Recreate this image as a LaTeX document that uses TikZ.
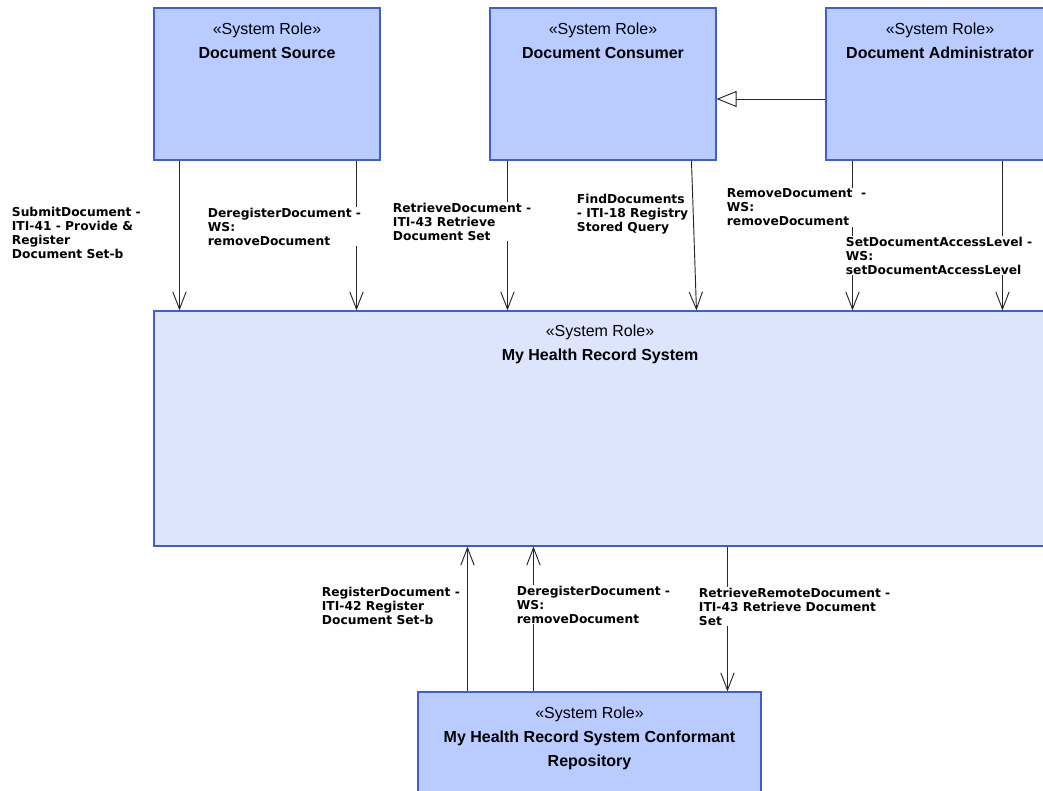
\documentclass[tikz,border=0pt]{standalone}
\usepackage{fontspec}
\setmainfont{Liberation Sans}
\newfontfamily\lblfont{DejaVu Sans}
\usetikzlibrary{arrows.meta,positioning}
\definecolor{rolefill}{RGB}{186,204,255}
\definecolor{sysfill}{RGB}{221,229,253}
\definecolor{roleline}{RGB}{64,92,214}

\begin{document}
\begin{tikzpicture}[x=0.75pt,y=-0.75pt,
	role/.style={draw=roleline, fill=rolefill, line width=0.8pt},
	sysrole/.style={role, fill=sysfill},
	roletext/.style={align=center, inner sep=0pt, font=\fontsize{12}{18}\selectfont},
	call/.style={draw=black!85, line width=0.7pt, -{Straight Barb[length=13pt,width=10pt]}},
	lbl/.style={align=left, anchor=north west, fill=white, inner sep=0.5pt, font=\lblfont\bfseries\fontsize{9.2}{10.5}\selectfont}]
	\useasboundingbox (0,0) rectangle (1043,791);
	% system roles
	\node[role, minimum width=169.5pt, minimum height=114pt] (source) at (267,84) {};
	\node[role, minimum width=169.5pt, minimum height=114pt] (consumer) at (603,84) {};
	\node[role, minimum width=165pt, minimum height=114pt] (admin) at (936,84) {};
	\node[sysrole, minimum width=669pt, minimum height=176.25pt] (mhr) at (600,428.5) {};
	\node[role, minimum width=257.25pt, minimum height=81pt] (repo) at (589.5,746) {};
	\node[roletext, below=11.25pt of source.north] (sourcetext) {«System Role»\\\textbf{Document Source}};
	\node[roletext, below=11.25pt of consumer.north] (consumertext) {«System Role»\\\textbf{Document Consumer}};
	\node[roletext, below=11.25pt of admin.north, xshift=3pt] (admintext) {«System Role»\\\textbf{Document Administrator}};
	\node[roletext, below=10.5pt of mhr.north] (mhrtext) {«System Role»\\\textbf{My Health Record System}};
	\node[roletext, below=11.25pt of repo.north] (repotext) {«System Role»\\\textbf{My Health Record System Conformant}\\\textbf{Repository}};
	% interactions
	\draw[call] ([xshift=19.5pt]source.south west) -- ([xshift=19.5pt]mhr.north west);
	\draw[call] ([xshift=152.25pt]source.south west) -- ([xshift=152.25pt]mhr.north west);
	\draw[call] ([xshift=13.5pt]consumer.south west) -- ([xshift=265.5pt]mhr.north west);
	\draw[call] ([xshift=151.5pt]consumer.south west) -- ([xshift=407.25pt]mhr.north west);
	\draw[call] ([xshift=20.25pt]admin.south west) -- ([xshift=524.25pt]mhr.north west);
	\draw[call] ([xshift=132.75pt]admin.south west) -- ([xshift=636.75pt]mhr.north west);
	\draw[draw=black!85, line width=0.7pt, -{Triangle[open, length=15pt, width=12pt, fill=white]}] ([yshift=-11.25pt]admin.west) -- ([yshift=-11.25pt]consumer.east);
	\draw[call] ([xshift=37.5pt]repo.north west) -- ([xshift=235.5pt]mhr.south west);
	\draw[call] ([xshift=87pt]repo.north west) -- ([xshift=285pt]mhr.south west);
	\draw[call] ([xshift=430.5pt]mhr.south west) -- ([xshift=232.5pt]repo.north west);
	% labels
	\node[lbl] (submit) at (11,206) {SubmitDocument -\\ITI-41 - Provide \&\\Register\\Document Set-b};
	\node[lbl] (deregister) at (207,207) {DeregisterDocument -\\WS:\\removeDocument};
	\node[lbl] (retrieve) at (392,202) {RetrieveDocument -\\ITI-43 Retrieve\\Document Set};
	\node[lbl] (find) at (576,193) {FindDocuments\\- ITI-18 Registry\\Stored Query};
	\node[lbl] (remove) at (726,188) {RemoveDocument\ \ -\\WS:\\removeDocument};
	\node[lbl] (setlevel) at (845,236) {SetDocumentAccessLevel -\\WS:\\setDocumentAccessLevel};
	\node[lbl] (register) at (321,586) {RegisterDocument -\\ITI-42 Register\\Document Set-b};
	\node[lbl] (deregrepo) at (516,585) {DeregisterDocument -\\WS:\\removeDocument};
	\node[lbl] (retrremote) at (698,587) {RetrieveRemoteDocument -\\ITI-43 Retrieve Document\\Set};
\end{tikzpicture}
\end{document}
